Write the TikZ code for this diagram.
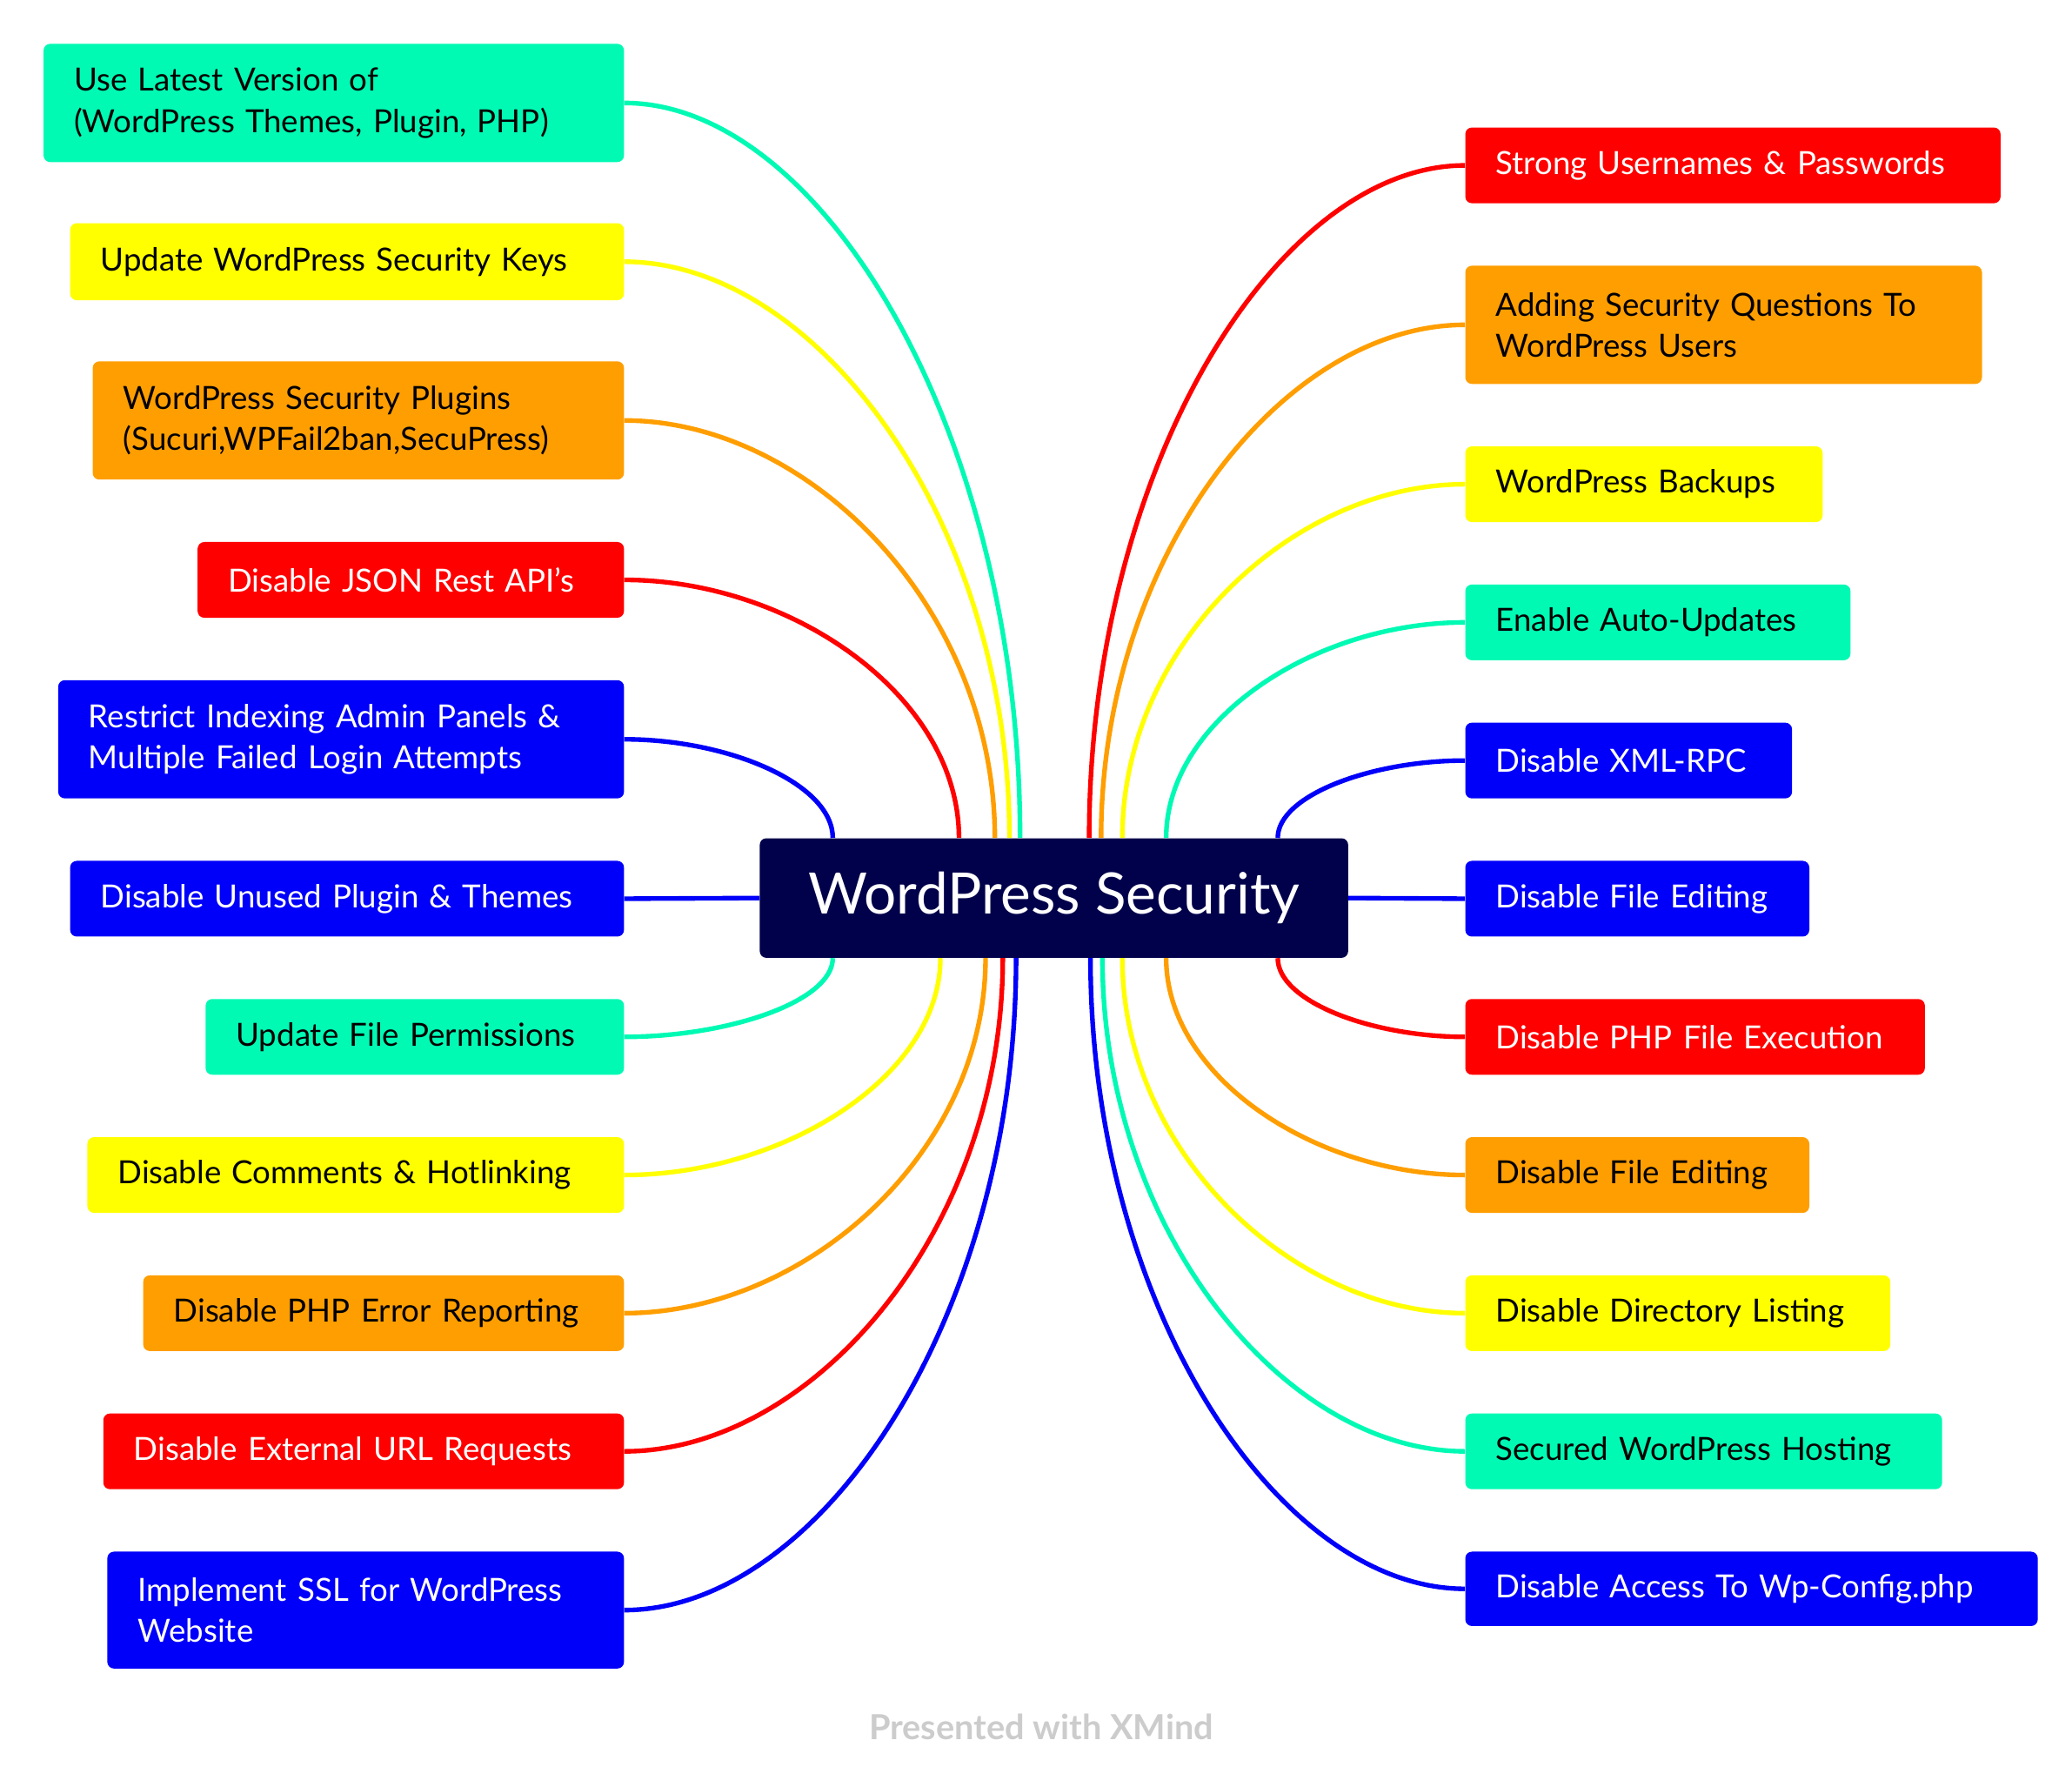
\documentclass[tikz,border=0pt]{standalone}
\usepackage{fontspec}
\setmainfont{Lato}
\usetikzlibrary{calc}
\definecolor{cteal}{RGB}{0,250,180}
\definecolor{cyel}{RGB}{255,255,0}
\definecolor{corg}{RGB}{255,158,0}
\definecolor{cred}{RGB}{255,0,0}
\definecolor{cblue}{RGB}{0,0,250}
\definecolor{cnavy}{RGB}{0,0,75}
\begin{document}
\begin{tikzpicture}[x=1pt,y=-1pt,
  bx/.style={rounded corners=5pt,inner xsep=0pt,inner ysep=0pt,align=left,font=\fontsize{24}{31}\selectfont},
  lk/.style={line width=3.5pt},
]
\useasboundingbox (0,0) rectangle (1560,1330);
\newcommand{\LB}[7]{% name, left, top, bottom, color, textcolor, text
  \node[bx,fill=#5,text=#6,minimum width={470-#2},minimum height={#4-#3},text width={470-#2-46},anchor=east] (#1) at (470,{(#3+#4)/2}) {#7};}
\newcommand{\RB}[7]{% name, right, top, bottom, color, textcolor, text
  \node[bx,fill=#5,text=#6,minimum width={#2-1103},minimum height={#4-#3},text width={#2-1103-46},anchor=west] (#1) at (1103,{(#3+#4)/2}) {#7};}
\foreach \n/\x/\e/\col in {l1/768/north/cteal,l2/760/north/cyel,l3/749/north/corg,l4/722/north/cred,l5/627/north/cblue,
  l7/627/south/cteal,l8/708/south/cyel,l9/742/south/corg,l10/755/south/cred,l11/765/south/cblue}{}
\node[rounded corners=5pt,fill=cnavy,text=white,minimum width=443,minimum height=90,font=\fontsize{43}{50}\selectfont] (c) at (793.5,676) {WordPress Security};
\LB{l1}{33}{33}{122}{cteal}{black}{Use Latest Version of\\(WordPress Themes, Plugin, PHP)}
\LB{l2}{53}{168}{226}{cyel}{black}{Update WordPress Security Keys}
\LB{l3}{70}{272}{361}{corg}{black}{WordPress Security Plugins\\(Sucuri,WPFail2ban,SecuPress)}
\LB{l4}{149}{408}{465}{cred}{white}{Disable JSON Rest API's}
\LB{l5}{44}{512}{601}{cblue}{white}{Restrict Indexing Admin Panels \&\\Multiple Failed Login Attempts}
\LB{l6}{53}{648}{705}{cblue}{white}{Disable Unused Plugin \& Themes}
\LB{l7}{155}{752}{809}{cteal}{black}{Update File Permissions}
\LB{l8}{66}{856}{913}{cyel}{black}{Disable Comments \& Hotlinking}
\LB{l9}{108}{960}{1017}{corg}{black}{Disable PHP Error Reporting}
\LB{l10}{78}{1064}{1121}{cred}{white}{Disable External URL Requests}
\LB{l11}{81}{1168}{1256}{cblue}{white}{Implement SSL for WordPress\\Website}
\RB{r1}{1506}{96}{153}{cred}{white}{Strong Usernames \& Passwords}
\RB{r2}{1492}{200}{289}{corg}{black}{Adding Security Questions To\\WordPress Users}
\RB{r3}{1372}{336}{393}{cyel}{black}{WordPress Backups}
\RB{r4}{1393}{440}{497}{cteal}{black}{Enable Auto-Updates}
\RB{r5}{1349}{544}{601}{cblue}{white}{Disable XML-RPC}
\RB{r6}{1362}{648}{705}{cblue}{white}{Disable File Editing}
\RB{r7}{1449}{752}{809}{cred}{white}{Disable PHP File Execution}
\RB{r8}{1362}{856}{913}{corg}{black}{Disable File Editing}
\RB{r9}{1423}{960}{1017}{cyel}{black}{Disable Directory Listing}
\RB{r10}{1462}{1064}{1121}{cteal}{black}{Secured WordPress Hosting}
\RB{r11}{1534}{1168}{1224}{cblue}{white}{Disable Access To Wp-Config.php}
\foreach \n/\x/\e/\col in {l1/768/north/cteal,l2/760/north/cyel,l3/749/north/corg,l4/722/north/cred,l5/627/north/cblue,
  l7/627/south/cteal,l8/708/south/cyel,l9/742/south/corg,l10/755/south/cred,l11/765/south/cblue}{
  \coordinate (s\n) at (\x,0 |- c.\e);
  \draw[lk,\col] (\n.east) .. controls ($(\n.east)!0.5!(s\n |- \n.east)$) and ($(s\n)!0.55!(s\n |- \n.east)$) .. (s\n);}
\foreach \n/\x/\e/\col in {r1/820/north/cred,r2/829/north/corg,r3/845/north/cyel,r4/878/north/cteal,r5/962/north/cblue,
  r7/962/south/cred,r8/878/south/corg,r9/845/south/cyel,r10/830/south/cteal,r11/821/south/cblue}{
  \coordinate (s\n) at (\x,0 |- c.\e);
  \draw[lk,\col] (\n.west) .. controls ($(\n.west)!0.5!(s\n |- \n.west)$) and ($(s\n)!0.55!(s\n |- \n.west)$) .. (s\n);}
\draw[lk,cblue] (l6.east) -- (c.west);
\draw[lk,cblue] (r6.west) -- (c.east);
\node[text=black!20,font=\bfseries\fontsize{26}{30}\selectfont] (ft) at (784,1300) {Presented with XMind};
\end{tikzpicture}
\end{document}
